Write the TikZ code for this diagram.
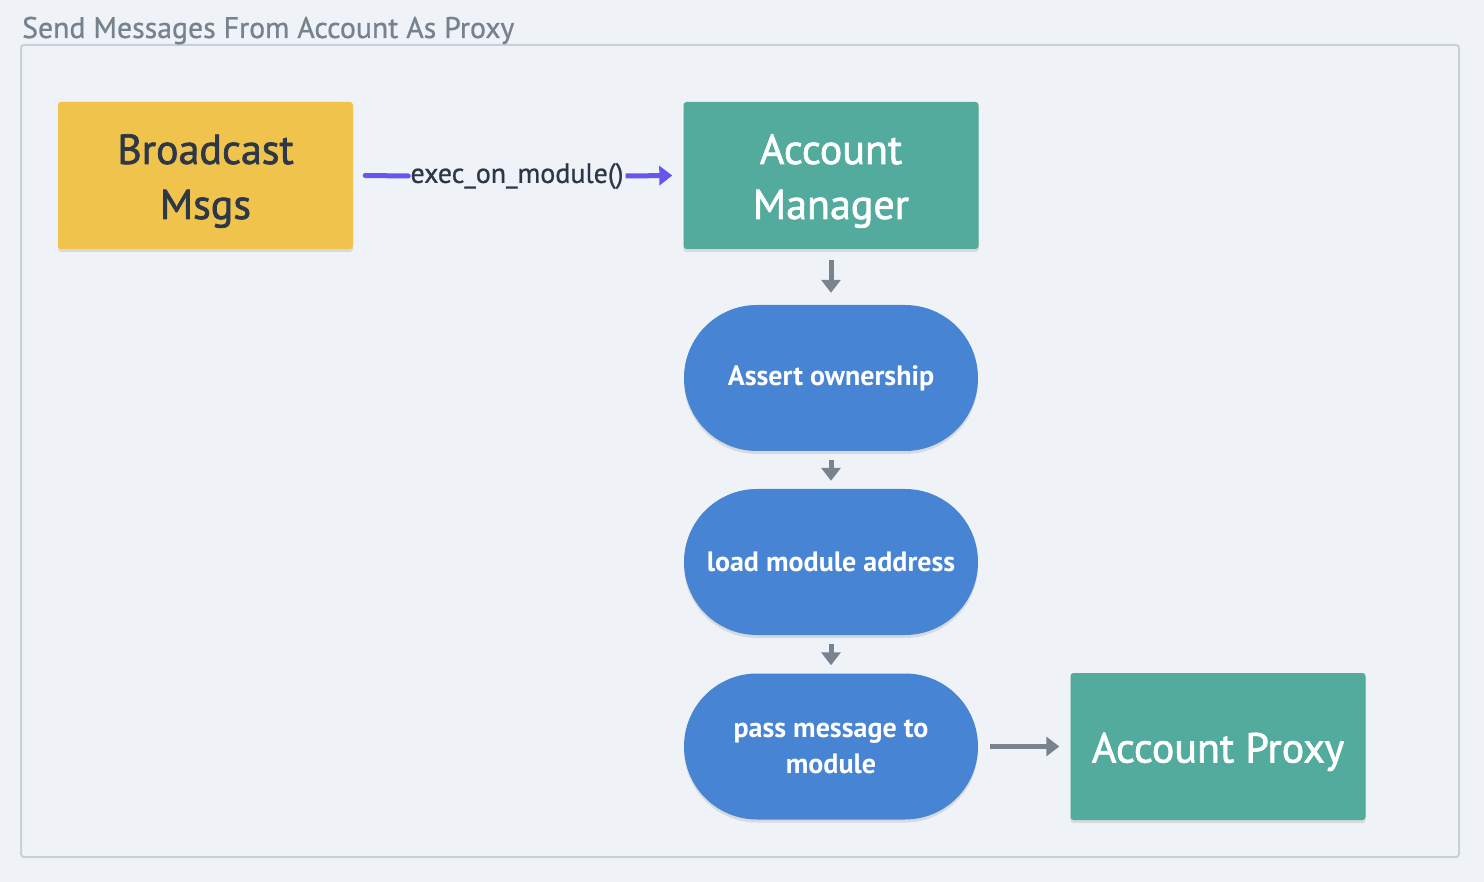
\documentclass[tikz,border=0pt]{standalone}
\usepackage{fontspec}
\setmainfont{PT Sans}
\newfontfamily\medfont[FakeBold=1.6]{PT Sans}
\newfontfamily\titlefont[FakeBold=0.8]{PT Sans}
\usetikzlibrary{arrows.meta,shadows}
\definecolor{bgc}{HTML}{EFF3F7}
\definecolor{framec}{HTML}{C7CFD9}
\definecolor{titlec}{HTML}{77828F}
\definecolor{yellowc}{HTML}{F0C44C}
\definecolor{tealc}{HTML}{52AB9C}
\definecolor{bluec}{HTML}{4884D4}
\definecolor{darkc}{HTML}{2D3748}
\definecolor{grayarr}{HTML}{78838F}
\definecolor{purplec}{HTML}{6655EE}
\newcommand\lowered[1]{\raisebox{-5pt}[\height][\depth]{\begin{tabular}{@{}c@{}}#1\end{tabular}}}
\tikzset{
  shadowed/.style={drop shadow={shadow xshift=0pt,shadow yshift=-3pt,opacity=0.10,fill=black}},
  bigbox/.style={shadowed,rectangle,rounded corners=3pt,minimum width=295pt,minimum height=147pt,
    align=center,font=\medfont\fontsize{42}{55}\selectfont,inner sep=0pt},
  stadium/.style={shadowed,rectangle,rounded corners=73pt,minimum width=294pt,minimum height=146pt,
    fill=bluec,text=white,align=center,font=\fontsize{28}{36}\selectfont\bfseries,inner sep=0pt},
  grayarrow/.style={draw=grayarr,line width=5pt,-{Triangle[width=19pt,length=13pt]}},
  purplearrow/.style={draw=purplec,line width=5pt,-{Triangle[width=19pt,length=13pt]}},
}
\begin{document}
\begin{tikzpicture}[x=1pt,y=-1pt]
\useasboundingbox (0,0) rectangle (1484,882);
\fill[bgc] (0,0) rectangle (1484,882);
\draw[framec,line width=2pt,rounded corners=3pt] (21,45) rectangle (1459,857);
\node[anchor=base west,text=titlec,font=\titlefont\fontsize{29.8}{34}\selectfont,inner sep=0pt] (title) at (22,38) {Send Messages From Account As Proxy};

\node[bigbox,fill=yellowc,text=darkc] (bm) at (205.5,175.5) {\lowered{Broadcast\\Msgs}};
\node[bigbox,fill=tealc,text=white] (am) at (831,175.5) {\lowered{Account\\Manager}};
\node[stadium] (ao) at (831,378) {Assert ownership};
\node[stadium] (lm) at (831,562) {load module address};
\node[stadium] (pm) at (831,746.5) {pass message to\\module};
\node[bigbox,fill=tealc,text=white] (ap) at (1218,746.5) {\lowered{Account Proxy}};

\node[fill=bgc,text=darkc,font=\titlefont\fontsize{28}{32}\selectfont,inner sep=2pt] (lbl) at (517,176) {exec\_on\_module()};
\draw[purplec,line width=5pt,line cap=round] ([xshift=12pt]bm.east) -- (lbl.west);
\draw[purplearrow] (lbl.east) -- ([xshift=-11pt]am.west);

\draw[grayarrow] ([yshift=-11pt]am.south) -- ([yshift=12pt]ao.north);
\draw[grayarrow] ([yshift=-9pt]ao.south) -- ([yshift=8pt]lm.north);
\draw[grayarrow] ([yshift=-9pt]lm.south) -- ([yshift=8pt]pm.north);
\draw[grayarrow] ([xshift=12pt]pm.east) -- ([xshift=-11pt]ap.west);
\end{tikzpicture}
\end{document}
